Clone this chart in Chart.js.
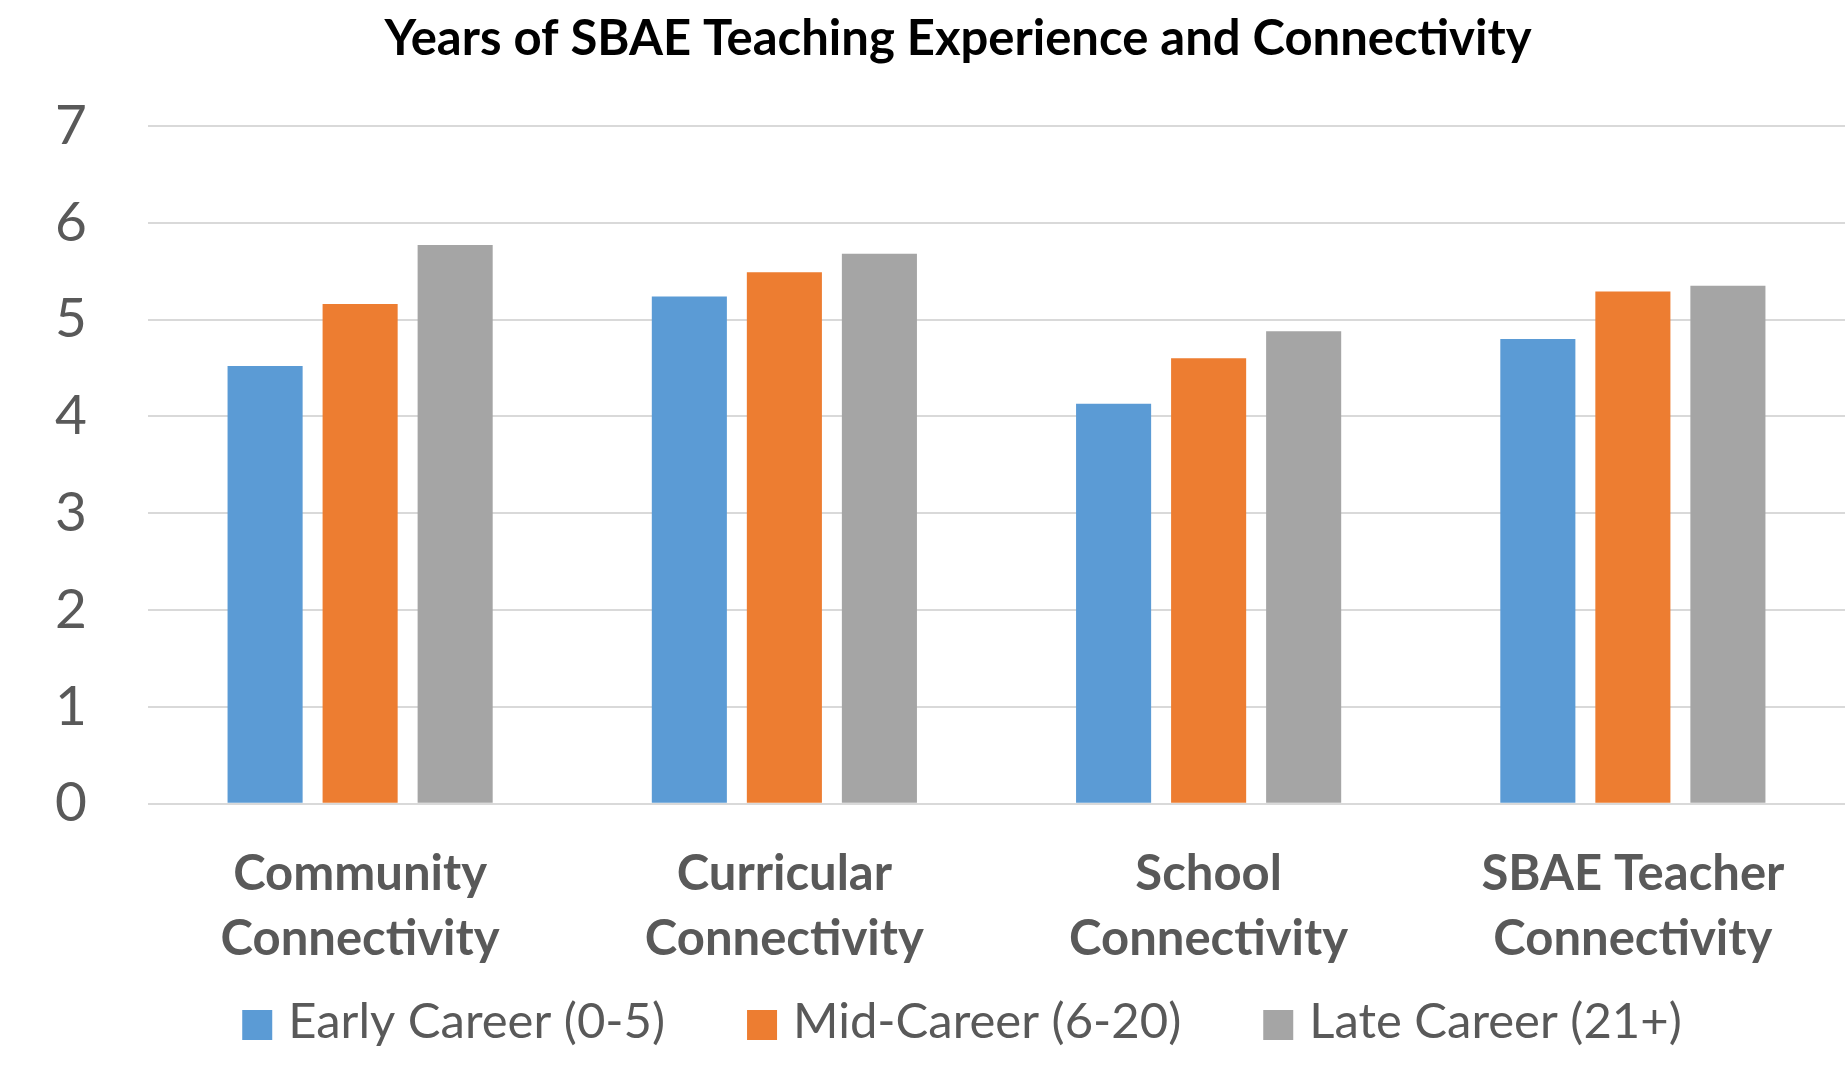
<!DOCTYPE html>
<html>
<head>
<meta charset="utf-8">
<script src="https://cdn.jsdelivr.net/npm/chart.js@4.4.1/dist/chart.umd.min.js"></script>
<style>
  html, body { margin: 0; padding: 0; background: #ffffff; }
  #wrap { width: 1845px; height: 1075px; }
</style>
</head>
<body>
<div id="wrap"><canvas id="c" width="1845" height="1075"></canvas></div>
<script>
const categories = [
  ['Community', 'Connectivity'],
  ['Curricular', 'Connectivity'],
  ['School', 'Connectivity'],
  ['SBAE Teacher', 'Connectivity']
];
const seriesNames = ['Early Career (0-5)', 'Mid-Career (6-20)', 'Late Career (21+)'];
const earlyCareer = [4.52, 5.24, 4.13, 4.80];
const midCareer   = [5.16, 5.49, 4.60, 5.29];
const lateCareer  = [5.77, 5.68, 4.88, 5.35];
const yTicks = [0, 1, 2, 3, 4, 5, 6, 7];
const chartTitle = 'Years of SBAE Teaching Experience and Connectivity';

const colors = ['#5B9BD5', '#ED7D31', '#A5A5A5'];
const textColor = '#595959';

// Title and legend drawn on the canvas (positions tuned to the reference)
const titleAndLegend = {
  id: 'titleAndLegend',
  afterDraw(chart) {
    const ctx = chart.ctx;
    ctx.save();
    // Title
    ctx.fillStyle = '#000000';
    ctx.font = 'bold 49px Lato';
    ctx.textAlign = 'center';
    ctx.textBaseline = 'alphabetic';
    ctx.fillText(chartTitle, 958, 55);

    // Legend
    ctx.font = '49px Lato';
    ctx.textAlign = 'left';
    const box = 30, gapText = 16, gapItem = 82;
    const widths = seriesNames.map(n => ctx.measureText(n).width);
    const total = widths.reduce((a, w) => a + box + gapText + w, 0) + gapItem * (seriesNames.length - 1);
    let x = 962 - total / 2;
    seriesNames.forEach((name, i) => {
      ctx.fillStyle = chart.data.datasets[i].backgroundColor;
      ctx.fillRect(x, 1010, box, box);
      ctx.fillStyle = textColor;
      ctx.fillText(name, x + box + gapText, 1038);
      x += box + gapText + widths[i] + gapItem;
    });
    ctx.restore();
  }
};

const ctx = document.getElementById('c').getContext('2d');
new Chart(ctx, {
  type: 'bar',
  data: {
    labels: categories,
    datasets: [earlyCareer, midCareer, lateCareer].map((d, i) => ({
      label: seriesNames[i],
      data: d,
      backgroundColor: colors[i],
      borderWidth: 0,
      categoryPercentage: 0.672,
      barPercentage: 0.79
    }))
  },
  plugins: [titleAndLegend],
  options: {
    responsive: false,
    animation: false,
    devicePixelRatio: 1,
    layout: { padding: { left: 0, right: 0, top: 126, bottom: 65 } },
    plugins: {
      title: { display: false },
      legend: { display: false },
      tooltip: { enabled: false }
    },
    scales: {
      x: {
        grid: { display: false, drawTicks: false },
        border: { display: false },
        ticks: {
          color: textColor,
          font: { family: 'Lato', size: 49, weight: 'bold', lineHeight: 1.32 },
          padding: 38.5,
          maxRotation: 0,
          autoSkip: false
        }
      },
      y: {
        min: 0,
        max: 7,
        afterFit: (scale) => { scale.width = 148; },
        afterBuildTicks: (scale) => { scale.ticks = yTicks.map(v => ({ value: v })); },
        grid: { color: '#D9D9D9', lineWidth: 2, drawTicks: false },
        border: { display: false },
        ticks: {
          color: textColor,
          font: { family: 'Lato', size: 55 },
          padding: 61,
          stepSize: 1
        }
      }
    }
  }
});
</script>
</body>
</html>
